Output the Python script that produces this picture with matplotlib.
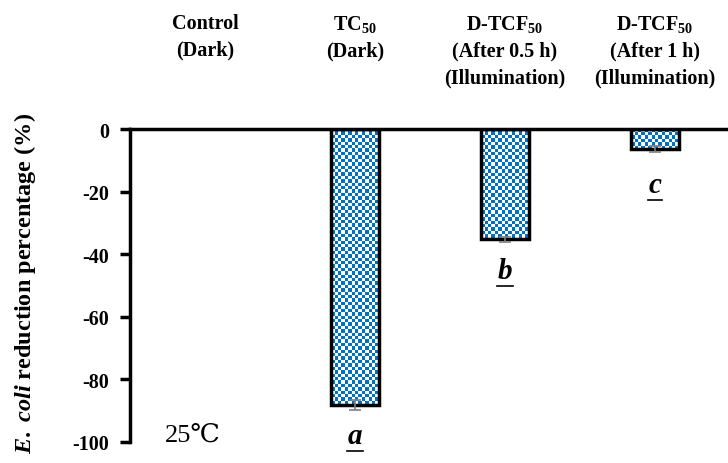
import numpy as np
import matplotlib
matplotlib.use('Agg')
import matplotlib.pyplot as plt
from matplotlib.colors import ListedColormap
from matplotlib.lines import Line2D

plt.rcParams['font.family'] = ['Liberation Serif', 'DejaVu Serif']
plt.rcParams['mathtext.fontset'] = 'custom'
plt.rcParams['mathtext.rm'] = 'Liberation Serif:bold'
plt.rcParams['mathtext.bf'] = 'Liberation Serif:bold'
plt.rcParams['mathtext.it'] = 'Liberation Serif:bold:italic'

categories = ["Control\n(Dark)",
              "TC$_{50}$\n(Dark)",
              "D-TCF$_{50}$\n(After 0.5 h)\n(Illumination)",
              "D-TCF$_{50}$\n(After 1 h)\n(Illumination)"]
values = [0.0, -88.3, -35.2, -6.5]
errors = [0.0, 1.6, 0.8, 1.0]
letters = ["", "a", "b", "c"]
letter_y = [0.0, -98.0, -45.5, -18.0]
yticks = [0, -20, -40, -60, -80, -100]

W, H = 728, 464
fig = plt.figure(figsize=(W / 100, H / 100), dpi=100)
ax = fig.add_axes([130 / W, 1 - 443 / H, 600 / W, 313 / H])

x = np.arange(len(categories))
blue = '#0070C0'
vals = np.array(values)
nz = vals != 0
bars = ax.bar(x[nz], vals[nz], width=0.32, facecolor='none', edgecolor='black',
              linewidth=2.5, zorder=3)
ax.errorbar(x[nz], vals[nz], yerr=np.array(errors)[nz], fmt='none',
            ecolor='#7f7f7f', elinewidth=1.2, capsize=4, capthick=1.2, zorder=4)

ax.set_xlim(-0.5, 3.5)
ax.set_ylim(-100, 0)

# checkerboard fill, clipped to each bar
ncols, nrows = 176, 92
ii, jj = np.indices((nrows, ncols))
board = (ii + jj) % 2
cmap = ListedColormap(['white', blue])
for b in bars:
    im = ax.imshow(board, cmap=cmap, extent=(-0.5, 3.5, -100, 0), aspect='auto',
                   interpolation='nearest', zorder=2)
    im.set_clip_path(b)

ax.set_xlim(-0.5, 3.5)
ax.set_ylim(-100, 0)

for s in ['right', 'bottom']:
    ax.spines[s].set_visible(False)
ax.spines['left'].set_linewidth(2.5)
ax.spines['top'].set_linewidth(2.5)
ax.set_xticks([])
ax.set_yticks(yticks)
ax.set_yticklabels([str(t) for t in yticks], fontsize=14.5, fontweight='bold')
ax.tick_params(axis='y', direction='out', length=7, width=2.5, pad=8)

ax.set_ylabel(r"$\mathit{E.\ coli}$ reduction percentage (%)", fontsize=17.5,
              fontweight='bold')
ax.yaxis.set_label_coords(-92 / 600, 0.51)

for xi, lab in zip(x, categories):
    ax.text(xi, 1 + 116 / 313, lab, transform=ax.get_xaxis_transform(),
            ha='center', va='top', fontsize=14.5, fontweight='bold',
            multialignment='center', linespacing=1.45)

letter_texts = []
for xi, l, ly in zip(x, letters, letter_y):
    if l:
        t = ax.text(xi, ly, r"$\mathit{%s}$" % l, ha='center', va='center',
                    fontsize=21)
        letter_texts.append(t)

ax.text(-0.27, -97.5, "25℃", ha='left', va='center', fontsize=19,
        family=['Liberation Serif', 'DejaVu Serif', 'Noto Sans CJK SC'])

# underline the significance letters
fig.canvas.draw()
r = fig.canvas.get_renderer()
for t in letter_texts:
    bb = t.get_window_extent(r)
    y0 = bb.y0 - 2
    fig.add_artist(Line2D([bb.x0, bb.x1], [y0, y0], color='black',
                          linewidth=1.2, transform=None))

fig.savefig('out.png', dpi=100)
